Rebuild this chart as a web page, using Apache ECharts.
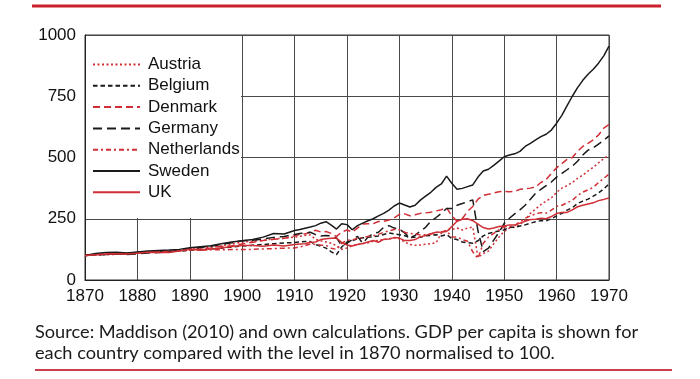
<!DOCTYPE html>
<html>
<head>
<meta charset="utf-8">
<script src="https://cdn.jsdelivr.net/npm/echarts@6/dist/echarts.min.js"></script>
<style>html,body{margin:0;padding:0;background:#fff}#c{width:700px;height:379px}</style>
</head>
<body>
<div id="c"></div>
<script>
const years = [1870,1872,1874,1876,1878,1880,1882,1884,1886,1888,1890,1892,1894,1896,1898,1900,1902,1904,1906,1908,1910,
  1911,1912,1913,1914,1915,1916,1917,1918,1919,1920,
  1921,1922,1923,1924,1925,1926,1927,1928,1929,1930,
  1931,1932,1933,1934,1935,1936,1937,1938,1939,1940,
  1941,1942,1943,1944,1945,1946,1947,1948,1949,1950,
  1951,1952,1953,1954,1955,1956,1957,1958,1959,1960,
  1961,1962,1963,1964,1965,1966,1967,1968,1969,1970];

const austria = [100,102,103,105,106,110,114,116,118,120,125,130,135,140,147,155,158,162,168,170,175,
  178,182,184,166,160,155,150,140,125,131,
  140,145,148,152,158,162,165,168,172,168,
  155,145,142,143,146,148,152,191,205,206,
  212,204,212,216,92,108,118,148,175,199,
  212,215,225,245,272,290,308,322,335,358,
  375,385,398,415,428,445,460,478,495,510];

const belgium = [100,103,106,105,106,112,114,115,116,118,121,124,127,130,135,139,142,145,148,151,153,
  155,157,157,145,138,130,115,104,135,155,
  160,168,172,175,176,180,186,192,188,185,
  181,173,175,174,181,182,185,180,185,170,
  165,155,152,150,160,180,190,195,200,205,
  215,215,220,225,232,238,242,242,250,262,
  272,285,295,312,322,330,342,355,372,392];

const denmark = [100,104,108,110,107,112,115,115,117,119,125,127,131,137,140,147,154,161,166,170,180,
  186,188,195,203,196,198,190,178,196,204,
  196,212,229,230,230,239,240,245,253,268,
  270,262,266,272,274,277,282,287,295,262,
  240,250,280,300,330,345,350,355,360,362,
  360,362,370,372,375,380,398,410,435,458,
  475,492,500,525,545,558,572,592,620,635];

const germany = [100,103,104,106,104,107,110,112,115,120,128,133,138,145,152,160,162,168,174,178,186,
  190,192,195,185,180,182,180,172,140,150,
  165,178,150,175,190,195,215,222,212,208,
  192,172,182,200,215,240,255,272,292,292,
  305,312,320,327,200,116,130,163,195,231,
  252,270,286,305,330,354,370,385,400,420,
  435,450,465,485,510,530,540,555,570,588];

const netherlands = [100,103,106,108,109,112,114,115,116,118,122,122,123,123,124,124,125,127,128,130,131,
  135,140,147,145,142,141,130,125,150,162,
  164,170,172,178,181,186,195,200,206,205,
  195,190,188,184,185,188,194,196,201,175,
  176,165,158,115,88,150,175,190,205,217,
  218,222,238,252,262,270,275,273,285,301,
  305,315,325,345,359,368,378,398,415,432];

const sweden = [100,108,112,113,110,114,118,120,122,125,132,136,140,148,155,160,165,175,190,188,202,
  206,211,216,222,232,238,224,208,230,226,
  205,222,232,242,250,262,272,285,302,314,
  306,298,305,326,342,358,378,392,424,395,
  370,374,381,388,420,445,452,468,485,503,
  510,515,525,545,558,572,585,595,612,640,
  672,712,750,785,815,840,860,885,915,955];

const uk = [100,103,106,107,106,109,113,112,112,118,126,121,126,131,137,141,141,138,143,139,145,
  147,148,154,155,165,168,170,171,153,143,
  139,145,149,155,161,154,166,167,173,171,
  161,161,165,176,182,189,195,196,198,218,
  240,248,250,242,228,214,208,212,218,220,
  225,224,232,240,247,248,252,250,259,271,
  276,276,286,299,305,310,315,324,329,335];

const yTicks = [0, 250, 500, 750, 1000];
const sourceLines = ['Source: Maddison (2010) and own calculations. GDP per capita is shown for',
  'each country compared with the level in 1870 normalised to 100.'];

const RED = '#cf2f35', BLACK = '#1a1a1a';
const defs = [
  {name:'Austria', data:austria, color:RED, type:[2,2.5]},
  {name:'Belgium', data:belgium, color:BLACK, type:[4.5,3]},
  {name:'Denmark', data:denmark, color:RED, type:[7,4]},
  {name:'Germany', data:germany, color:BLACK, type:[9,5]},
  {name:'Netherlands', data:netherlands, color:RED, type:[5,3,2,3]},
  {name:'Sweden', data:sweden, color:BLACK, type:'solid'},
  {name:'UK', data:uk, color:RED, type:'solid'}
];

const chart = echarts.init(document.getElementById('c'), null, {renderer:'canvas'});
const series = defs.map(d => ({
  name: d.name,
  type: 'line',
  data: years.map((y,i) => [y, d.data[i]]),
  symbol: 'none',
  showSymbol: false,
  smooth: false,
  z: 3,
  color: d.color,
  lineStyle: {color: d.color, width: 1.5, type: d.type},
  emphasis: {disabled: true}
}));

chart.setOption({
  animation: false,
  grid: {left: 85, right: 91, top: 35, bottom: 99, show: true, borderColor: '#333', borderWidth: 1, backgroundColor: 'transparent'},
  xAxis: {
    type: 'value', min: 1870, max: 1970, interval: 10,
    axisLine: {show: true, lineStyle: {color: '#222', width: 1}},
    axisTick: {show: false},
    splitLine: {show: true, lineStyle: {color: '#4a4a4a', width: 1}},
    axisLabel: {color: '#111', fontSize: 17, fontFamily: 'Liberation Sans, Arial, sans-serif', margin: 8, formatter: v => String(v)}
  },
  yAxis: {
    type: 'value', min: yTicks[0], max: yTicks[yTicks.length-1], interval: 250,
    axisLine: {show: true, lineStyle: {color: '#222', width: 1}},
    axisTick: {show: false},
    splitLine: {show: true, lineStyle: {color: '#4a4a4a', width: 1}},
    axisLabel: {color: '#111', fontSize: 17, fontFamily: 'Liberation Sans, Arial, sans-serif', margin: 9, formatter: v => String(v)}
  },
  legend: {
    orient: 'vertical', left: 92, top: 56, padding: 0,
    itemWidth: 47, itemHeight: 14, itemGap: 4.3,
    itemStyle: {color: 'transparent', borderColor: 'transparent', borderWidth: 0, opacity: 0},
    textStyle: {color: '#111', fontSize: 17, fontFamily: 'Liberation Sans, Arial, sans-serif', lineHeight: 17, padding: [0,0,0,3]},
    data: defs.map(d => d.name),
    selectedMode: false
  },
  series: series
});

const p1 = chart.convertToPixel({gridIndex: 0}, [1870, 1000]);
const p2 = chart.convertToPixel({gridIndex: 0}, [1900, 250]);
chart.setOption({
  graphic: [
    {type: 'rect', z: 1, silent: true,
     shape: {x: Math.round(p1[0]) + 1, y: Math.round(p1[1]) + 1, width: Math.round(p2[0]) - Math.round(p1[0]) - 2, height: Math.round(p2[1]) - Math.round(p1[1]) - 2},
     style: {fill: '#fff'}},
    {type: 'line', silent: true, shape: {x1: 32, y1: 6, x2: 661, y2: 6}, style: {stroke: '#cc1f2c', lineWidth: 3}},
    {type: 'line', silent: true, shape: {x1: 35, y1: 370, x2: 672, y2: 370}, style: {stroke: '#c9404c', lineWidth: 2}},
    {type: 'text', silent: true, left: 35, top: 322,
     style: {text: sourceLines.join('\n'), fill: '#1a1a1a', fontSize: 18.2, lineHeight: 21, fontFamily: 'Lato, "Noto Sans", sans-serif'}}
  ]
});
</script>
</body>
</html>
